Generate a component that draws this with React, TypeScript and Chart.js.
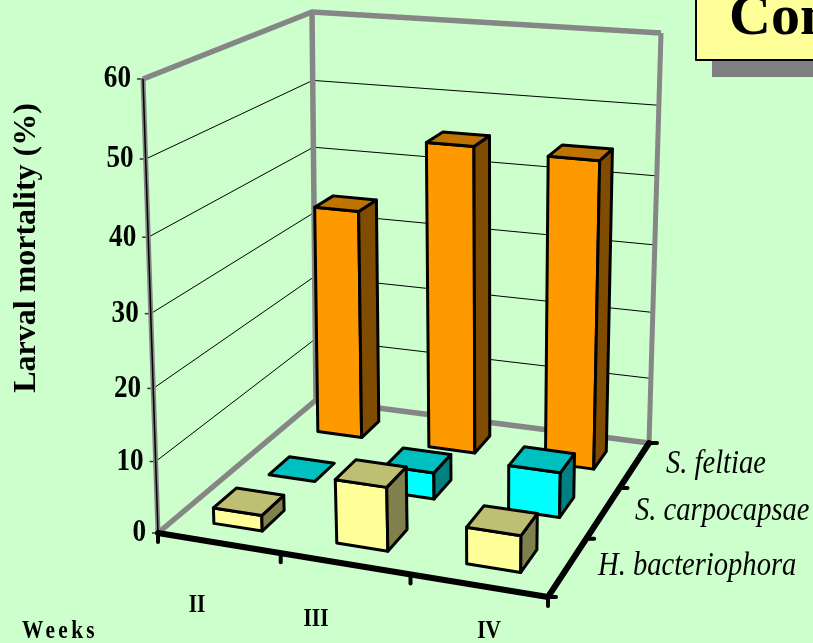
import React, { useEffect, useRef } from "react";
import { Chart, registerables, BarController, LinearScale } from "chart.js";

// Series and categories
const weeks = ["II", "III", "IV"];
const hBacteriophora = [2.2, 8.8, 5];
const sCarpocapsae = [0, 3.8, 6.4];
const sFeltiae = [34.3, 45.1, 44.6];
const valueTicks = { min: 0, max: 60, step: 10 };

// Layout of the 3D box: floor and ceiling corners in the order
// front-left, front-right, back-right, back-left.
type Pt = [number, number];
const floorQuad: Pt[] = [[158, 533], [548, 597], [649, 443], [316, 400]];
const ceilingQuad: Pt[] = [[143, 79], [556, 117], [661, 33], [312, 12]];
const barShare = 0.4;
const barNudge = 0.005;
const tickSqueeze = 0.85;
const serif = '"Liberation Serif"';

function homography(q: Pt[]) {
  const [[x0, y0], [x1, y1], [x2, y2], [x3, y3]] = q;
  const dx1 = x1 - x2, dx2 = x3 - x2, sx = x0 - x1 + x2 - x3;
  const dy1 = y1 - y2, dy2 = y3 - y2, sy = y0 - y1 + y2 - y3;
  const den = dx1 * dy2 - dx2 * dy1;
  const g = (sx * dy2 - dx2 * sy) / den;
  const h = (dx1 * sy - sx * dy1) / den;
  const a = x1 - x0 + g * x1, b = x3 - x0 + h * x3;
  const d = y1 - y0 + g * y1, e = y3 - y0 + h * y3;
  return (u: number, v: number): Pt => {
    const w = g * u + h * v + 1;
    return [(a * u + b * v + x0) / w, (d * u + e * v + y0) / w];
  };
}
const onFloor = homography(floorQuad);
const onCeiling = homography(ceilingQuad);

// u: along the weeks, v: into the depth, f: share of the value axis height
function project(u: number, v: number, f: number): Pt {
  const a = onFloor(u, v), b = onCeiling(u, v);
  return [a[0] + (b[0] - a[0]) * f, a[1] + (b[1] - a[1]) * f];
}

function shade(hex: string, k: number) {
  const n = parseInt(hex.slice(1), 16);
  const c = [(n >> 16) & 255, (n >> 8) & 255, n & 255].map((x) => Math.round(x * k));
  return `rgb(${c[0]},${c[1]},${c[2]})`;
}

function poly(ctx: CanvasRenderingContext2D, pts: Pt[], fill: string) {
  ctx.beginPath();
  pts.forEach((p, i) => (i ? ctx.lineTo(p[0], p[1]) : ctx.moveTo(p[0], p[1])));
  ctx.closePath();
  ctx.fillStyle = fill;
  ctx.fill();
  ctx.stroke();
}

function line(ctx: CanvasRenderingContext2D, pts: Pt[], color: string, width: number, cap: CanvasLineCap = "round") {
  ctx.beginPath();
  pts.forEach((p, i) => (i ? ctx.lineTo(p[0], p[1]) : ctx.moveTo(p[0], p[1])));
  ctx.strokeStyle = color;
  ctx.lineWidth = width;
  ctx.lineCap = cap;
  ctx.lineJoin = "round";
  ctx.stroke();
}

// Tall, narrow lettering: the glyphs are squeezed along the writing direction
function narrowText(ctx: CanvasRenderingContext2D, text: string, x: number, y: number, squeeze: number) {
  ctx.save();
  ctx.translate(x, y);
  ctx.scale(squeeze, 1);
  ctx.fillText(text, 0, 0);
  ctx.restore();
}

// Value axis whose spacing tightens toward the floor, as receding walls do
class PerspectiveScale extends LinearScale {
  static id = "perspective";
  static defaults = LinearScale.defaults;
  getPixelForValue(value: number) {
    const s = (value - this.min) / (this.max - this.min);
    const f = s / (1 + 0.07 * (1 - s));
    return this.bottom - this.height * f;
  }
  getPadding() {
    return { left: 0, right: 0, top: 0, bottom: 0 };
  }
  // tick labels follow the slanted front edge, so they may leave the axis box
  _computeLabelArea() {
    return undefined;
  }
  _computeLabelItems(area: any) {
    const items = super._computeLabelItems(area);
    for (const item of items) {
      const py = item.options.translation[1];
      const f = (this.bottom - py) / this.height;
      item.options.translation[0] = (project(0, 0, f)[0] - 12) / tickSqueeze;
      item.options.textAlign = "right";
    }
    return items;
  }
  drawLabels(area: any) {
    this.ctx.save();
    this.ctx.scale(tickSqueeze, 1);
    super.drawLabels(area);
    this.ctx.restore();
  }
}

// Bars drawn as boxes standing on the projected floor
class Bar3DController extends BarController {
  static id = "bar3d";
  static defaults = BarController.defaults;
  draw() {
    const meta = this._cachedMeta;
    const ctx = this.chart.ctx;
    const xs = meta.iScale, ys = meta.vScale;
    const ds = this.getDataset();
    const rows = this.chart.data.datasets.length;
    const v0 = (this.index + 0.5 - barShare / 2) / rows;
    const v1 = (this.index + 0.5 + barShare / 2) / rows;
    ctx.save();
    ctx.strokeStyle = "#000";
    ctx.lineWidth = 3;
    ctx.lineJoin = "round";
    ds.data.forEach((value: number, i: number) => {
      const step = xs.width / xs.getLabels().length;
      const cu = (xs.getPixelForTick(i) - xs.left) / xs.width + barNudge;
      const half = (barShare * step) / xs.width / 2;
      const u0 = cu - half, u1 = cu + half;
      const f = (ys.bottom - ys.getPixelForValue(value)) / ys.height;
      const color = ds.backgroundColor as string;
      if (f > 0) {
        poly(ctx, [project(u0, v0, 0), project(u1, v0, 0), project(u1, v0, f), project(u0, v0, f)], color);
        poly(ctx, [project(u1, v0, 0), project(u1, v1, 0), project(u1, v1, f), project(u1, v0, f)], shade(color, 0.5));
      }
      poly(ctx, [project(u0, v0, f), project(u1, v0, f), project(u1, v1, f), project(u0, v1, f)], shade(color, 0.75));
    });
    ctx.restore();
  }
}

Chart.register(...registerables, PerspectiveScale, Bar3DController);

const WALL = "#868686";

const boxPlugin = {
  id: "box3d",
  beforeDatasetsDraw(chart: any) {
    const { ctx } = chart;
    const ys = chart.scales.y;
    ctx.save();
    // gridlines across the side wall and the back wall
    ys.ticks.forEach((t: any) => {
      const f = (ys.bottom - ys.getPixelForValue(t.value)) / ys.height;
      if (f > 0 && f < 1) {
        line(ctx, [project(0, 0, f), project(0, 1, f), project(1, 1, f)], "#000", 1, "butt");
      }
      const p = project(0, 0, f);
      line(ctx, [[p[0] - 6, p[1]], p], "#333", 1.5, "butt");
    });
    // wall edges
    line(ctx, [project(0, 1, 0), project(0, 1, 1)], WALL, 5.5, "butt");
    line(ctx, [project(1, 1, 0), project(1, 1, 1)], WALL, 5, "butt");
    line(ctx, [project(0, 0, 1), project(0, 1, 1), project(1, 1, 1)], WALL, 5.5, "butt");
    line(ctx, [project(0, 0, 0), project(0, 1, 0), project(1, 1, 0)], WALL, 5.5, "butt");
    line(ctx, [project(0, 0, 0), project(0, 0, 1)], WALL, 5, "butt");
    line(ctx, [project(0, 0, 0), project(0, 0, 1)], "#000", 1.5, "butt");
    ctx.restore();
  },
  afterDatasetsDraw(chart: any) {
    const { ctx } = chart;
    ctx.save();
    // floor front and right edges with their tick marks
    line(ctx, [onFloor(0, 0), onFloor(1, 0), onFloor(1, 1)], "#000", 6);
    weeks.forEach((_, i) => {
      const p = onFloor(i / weeks.length, 0);
      line(ctx, [p, [p[0], p[1] + 9]], "#000", 4);
    });
    const end = onFloor(1, 0);
    line(ctx, [end, [end[0], end[1] + 9]], "#000", 4);
    chart.data.datasets.forEach((_: any, i: number) => {
      const p = onFloor(1, i / 3);
      line(ctx, [p, [p[0] + 8, p[1]]], "#000", 4);
    });
    const back = onFloor(1, 1);
    line(ctx, [back, [back[0] + 8, back[1]]], "#000", 4);

    ctx.fillStyle = "#000";
    ctx.textBaseline = "alphabetic";

    // week names under the front edge
    ctx.font = `bold 25px ${serif}`;
    ctx.textAlign = "center";
    const weekSpots: Pt[] = [[197, 612], [316, 626], [489, 638]];
    weeks.forEach((w, i) => narrowText(ctx, w, weekSpots[i][0], weekSpots[i][1], 0.85));

    ctx.textAlign = "left";
    ctx.font = `bold 25px ${serif}`;
    ctx.letterSpacing = "4px";
    narrowText(ctx, "Weeks", 22, 638, 0.85);
    ctx.letterSpacing = "0px";

    // series names beside the right edge
    ctx.font = `italic 34px ${serif}`;
    const seriesSpots: Pt[] = [[598, 575], [635, 520], [666, 473]];
    chart.data.datasets.forEach((d: any, i: number) => {
      narrowText(ctx, d.label, seriesSpots[i][0], seriesSpots[i][1], 0.84);
    });

    // value axis title
    ctx.save();
    ctx.translate(35, 248);
    ctx.rotate(-Math.PI / 2);
    ctx.textAlign = "center";
    ctx.font = `bold 32px ${serif}`;
    ctx.fillText("Larval mortality (%)", 0, 0);
    ctx.restore();

    // slide heading box, running off the right side
    ctx.fillStyle = "#808080";
    ctx.fillRect(712, 60, 101, 17);
    ctx.fillStyle = "#FFFF99";
    ctx.fillRect(696, -4, 117, 64);
    ctx.strokeStyle = "#000";
    ctx.lineWidth = 2;
    ctx.strokeRect(696, -4, 125, 64);
    ctx.fillStyle = "#000";
    ctx.font = `bold 58px ${serif}`;
    ctx.textAlign = "left";
    ctx.fillText("Con", 729, 34);
    ctx.restore();
  },
};

export default function App() {
  const ref = useRef<HTMLCanvasElement>(null);
  useEffect(() => {
    const chart = new Chart(ref.current!, {
      type: "bar3d" as any,
      data: {
        labels: weeks,
        datasets: [
          { label: "H. bacteriophora", data: hBacteriophora, backgroundColor: "#FFFF99", clip: false },
          { label: "S. carpocapsae", data: sCarpocapsae, backgroundColor: "#00FFFF", clip: false },
          { label: "S. feltiae", data: sFeltiae, backgroundColor: "#FF9900", clip: false },
        ],
      },
      options: {
        responsive: false,
        animation: false,
        layout: { padding: { top: 79, bottom: 110, left: 0, right: 0 } },
        plugins: { legend: { display: false }, tooltip: { enabled: false } },
        scales: {
          x: { type: "category", display: false },
          y: {
            type: "perspective" as any,
            min: valueTicks.min,
            max: valueTicks.max,
            ticks: {
              stepSize: valueTicks.step,
              color: "#000",
              font: { family: serif, size: 32, weight: "bold" },
            },
            grid: { display: false },
            border: { display: false },
          },
        },
      } as any,
      plugins: [boxPlugin],
    });
    return () => chart.destroy();
  }, []);
  return (
    <div style={{ position: "fixed", left: 0, top: 0, width: 813, height: 643, background: "#CCFFCC", overflow: "hidden" }}>
      <canvas ref={ref} width={813} height={643} style={{ display: "block" }} />
    </div>
  );
}
